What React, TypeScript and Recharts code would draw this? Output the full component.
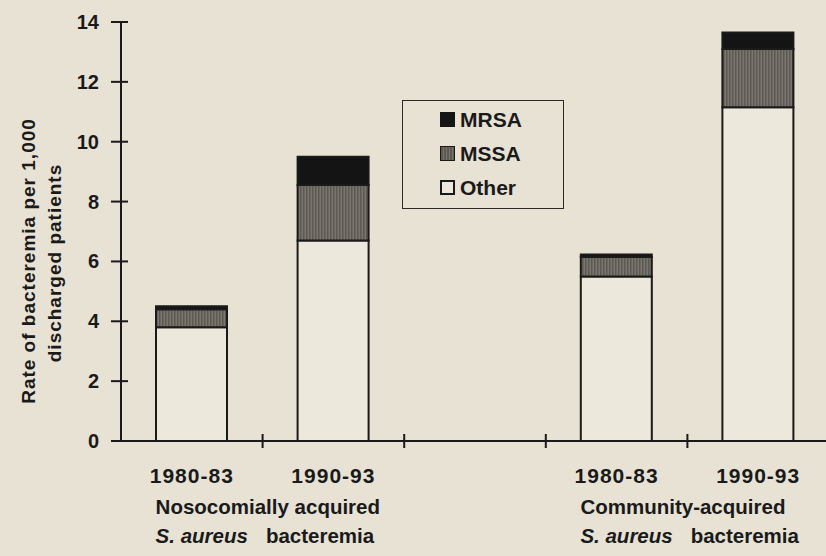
import { BarChart, Bar, XAxis, YAxis, Legend } from 'recharts';

const periods = ['1980-83', '1990-93', '', '1980-83', '1990-93'];
const otherRates = [3.8, 6.7, null, 5.5, 11.15];
const mssaRates = [0.6, 1.85, null, 0.65, 1.95];
const mrsaRates = [0.1, 0.95, null, 0.08, 0.55];
const groupNames = ['Nosocomially acquired', 'Community-acquired'];
const groupStarts = [0, 3];
const yTicks = [0, 2, 4, 6, 8, 10, 12, 14];
const legendOrder = ['mrsa', 'mssa', 'other'];

const W = 840;
const H = 556;
const Y_W = 121;
const M_TOP = 22;
const M_RIGHT = 11;
const X_H = 115;
const BAND = (W - Y_W - M_RIGHT) / periods.length;

const INK = '#1a1a1a';
const PAPER = '#e7e2d4';
const FONT = '"Liberation Sans", Arial, sans-serif';

const data = periods.map((p, i) => ({
  id: i,
  period: p,
  other: otherRates[i],
  mssa: mssaRates[i],
  mrsa: mrsaRates[i],
}));

const SWATCH: Record<string, React.CSSProperties> = {
  mrsa: { background: '#141414' },
  mssa: { background: 'repeating-linear-gradient(90deg, #5c5852 0 1.5px, #7a756d 1.5px 3px)', border: `1px solid ${INK}` },
  other: { background: '#ece8dc', border: `2px solid ${INK}` },
};

const LegendBox = ({ payload }: any) => {
  const items = legendOrder
    .map((key) => (payload || []).find((p: any) => p.dataKey === key))
    .filter(Boolean);
  return (
    <div
      style={{
        width: 162,
        height: 109,
        boxSizing: 'border-box',
        border: '1.5px solid #2a2a2a',
        paddingTop: 1,
        fontFamily: FONT,
        fontWeight: 700,
        fontSize: 21,
        color: INK,
      }}
    >
      {items.map((entry: any) => (
        <div key={entry.dataKey} style={{ display: 'flex', alignItems: 'center', height: 34, paddingLeft: 37 }}>
          <div style={{ width: 15, height: 15, boxSizing: 'border-box', marginRight: 5, ...SWATCH[entry.dataKey] }} />
          <span style={{ lineHeight: '21px' }}>{entry.value}</span>
        </div>
      ))}
    </div>
  );
};

const YTick = ({ x, y, payload }: any) => (
  <g>
    <line x1={x - 10} x2={x + 7} y1={y} y2={y} stroke={INK} strokeWidth={2} />
    <text x={x - 22} y={y} dy={7} textAnchor="end" fontFamily={FONT} fontWeight={700} fontSize={20} fill={INK}>
      {payload.value}
    </text>
  </g>
);

const XTick = ({ x, y, index }: any) => {
  const left = x - BAND / 2;
  const g = groupStarts.indexOf(index);
  const textX = x + BAND / 2 - 107;
  return (
    <g>
      {index > 0 && <line x1={left} x2={left} y1={y - 7} y2={y + 7} stroke={INK} strokeWidth={2} />}
      {index === periods.length - 1 && (
        <line x1={x + BAND / 2} x2={x + BAND / 2} y1={y - 7} y2={y + 7} stroke={INK} strokeWidth={2} />
      )}
      <text x={x} y={y + 42} textAnchor="middle" fontFamily={FONT} fontWeight={700} fontSize={21} letterSpacing={1} fill={INK}>
        {periods[index]}
      </text>
      {g >= 0 && (
        <g fontFamily={FONT} fontWeight={700} fontSize={20.5} fill={INK}>
          <text x={textX} y={y + 73}>{groupNames[g]}</text>
          <text x={textX} y={y + 102}>
            <tspan fontStyle="italic">S. aureus</tspan>
            <tspan dx={18}>bacteremia</tspan>
          </text>
        </g>
      )}
    </g>
  );
};

const YTitle = () => (
  <g fontFamily={FONT} fontWeight={700} fontSize={19} letterSpacing={1} fill={INK} textAnchor="middle">
    <text transform="translate(35,261) rotate(-90)">Rate of bacteremia per 1,000</text>
    <text transform="translate(61,263) rotate(-90)">discharged patients</text>
  </g>
);

export default function App() {
  return (
    <div
      style={{
        position: 'absolute',
        left: 0,
        top: 0,
        width: 826,
        height: 556,
        overflow: 'hidden',
        background: PAPER,
      }}
    >
      <BarChart width={W} height={H} data={data} margin={{ top: M_TOP, right: M_RIGHT, bottom: 0, left: 0 }}>
        <defs>
          <pattern id="mssaHatch" width={3} height={4} patternUnits="userSpaceOnUse">
            <rect width={3} height={4} fill="#7a756d" />
            <rect width={1.5} height={4} fill="#5c5852" />
          </pattern>
        </defs>
        <XAxis
          dataKey="id"
          height={X_H}
          interval={0}
          tickSize={0}
          tickMargin={0}
          tickLine={false}
          axisLine={{ stroke: INK, strokeWidth: 2 }}
          tick={<XTick />}
        />
        <YAxis
          width={Y_W}
          domain={[0, 14]}
          ticks={yTicks}
          tickSize={0}
          tickMargin={0}
          tickLine={false}
          axisLine={{ stroke: INK, strokeWidth: 2 }}
          tick={<YTick />}
          label={{ content: <YTitle /> }}
        />
        <Legend
          layout="vertical"
          align="center"
          verticalAlign="middle"
          content={<LegendBox />}
          wrapperStyle={{ left: 402, top: 100, width: 162, height: 109 }}
        />
        <Bar dataKey="other" name="Other" stackId="s" barSize={71} fill="#ece8dc" stroke={INK} strokeWidth={2} isAnimationActive={false} />
        <Bar dataKey="mssa" name="MSSA" stackId="s" barSize={71} fill="url(#mssaHatch)" stroke={INK} strokeWidth={2} isAnimationActive={false} />
        <Bar dataKey="mrsa" name="MRSA" stackId="s" barSize={71} fill="#141414" stroke={INK} strokeWidth={2} isAnimationActive={false} />
      </BarChart>
    </div>
  );
}
